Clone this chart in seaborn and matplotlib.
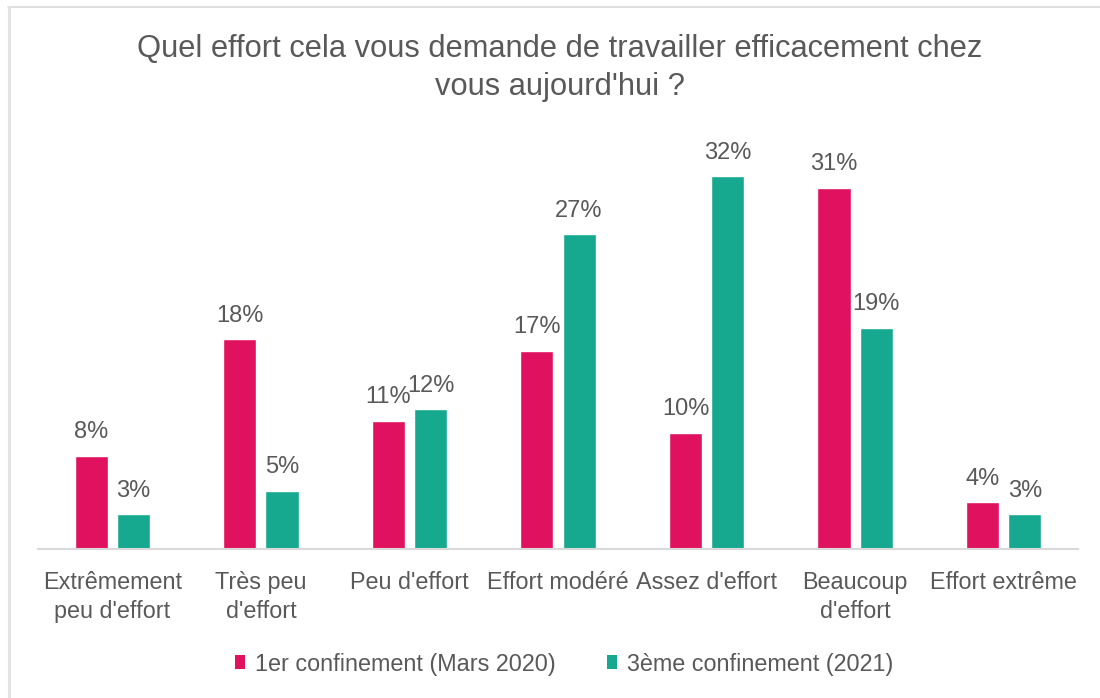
import matplotlib
matplotlib.use("Agg")
import matplotlib.pyplot as plt
import seaborn as sns
import pandas as pd
from matplotlib.patches import Patch
from matplotlib.lines import Line2D

categories = ["Extrêmement\npeu d'effort", "Très peu\nd'effort", "Peu d'effort",
              "Effort modéré", "Assez d'effort", "Beaucoup\nd'effort", "Effort extrême"]
series_names = ["1er confinement (Mars 2020)", "3ème confinement (2021)"]
values_2020 = [8, 18, 11, 17, 10, 31, 4]
values_2021 = [3, 5, 12, 27, 32, 19, 3]
colors = ["#E0115F", "#17A98F"]
title = "Quel effort cela vous demande de travailler efficacement chez\nvous aujourd'hui ?"

df = pd.DataFrame({
    "categorie": categories * 2,
    "periode": [series_names[0]] * len(categories) + [series_names[1]] * len(categories),
    "valeur": values_2020 + values_2021,
})

sns.set_theme(style="white")
plt.rcParams["font.family"] = ["Liberation Sans", "DejaVu Sans"]
text_color = "#595959"

W, H = 1100, 698
fig = plt.figure(figsize=(W / 100, H / 100), dpi=100)
ax = fig.add_axes([38 / W, 1 - 549 / H, 1040 / W, 419.4 / H])

sns.barplot(data=df, x="categorie", y="valeur", hue="periode", order=categories,
            hue_order=series_names, palette=colors, saturation=1,
            width=0.568, gap=0.215, ax=ax, legend=False)

ax.set_xlim(-0.5, len(categories) - 0.5)
ax.set_ylim(0, 36)

for container, vals in zip(ax.containers, [values_2020, values_2021]):
    ax.bar_label(container, labels=[f"{v}%" for v in vals], padding=9,
                 fontsize=17, color=text_color)

for side in ["top", "left", "right"]:
    ax.spines[side].set_visible(False)
ax.spines["bottom"].set_color("#D9D9D9")
ax.spines["bottom"].set_linewidth(1.5)
ax.set_yticks([])
ax.set_xlabel("")
ax.set_ylabel("")
ax.tick_params(axis="x", length=0, pad=16, labelsize=16.8, labelcolor=text_color)
for lbl in ax.get_xticklabels():
    lbl.set_linespacing(1.3)

fig.text(560 / W, 1 - 68 / H, title, ha="center", va="center",
         fontsize=22.2, color=text_color, linespacing=1.33)

handles = [Patch(facecolor=c, edgecolor="none", label=n) for c, n in zip(colors, series_names)]
fig.legend(handles=handles, loc="center", bbox_to_anchor=(564 / W, 1 - 664 / H),
           ncol=2, frameon=False, fontsize=16.8, labelcolor=text_color,
           handlelength=0.45, handleheight=0.55, handletextpad=0.4,
           columnspacing=2.2, borderpad=0, borderaxespad=0)

# light frame along the top and left edges
fig.add_artist(Line2D([8 / W, 1], [1 - 7 / H, 1 - 7 / H], transform=fig.transFigure,
                      color="#D9D9D9", linewidth=1.2))
fig.add_artist(Line2D([9 / W, 9 / W], [0, 1 - 7 / H], transform=fig.transFigure,
                      color="#E3E3E3", linewidth=2.2))

fig.savefig("out.png", dpi=100, facecolor="white")
